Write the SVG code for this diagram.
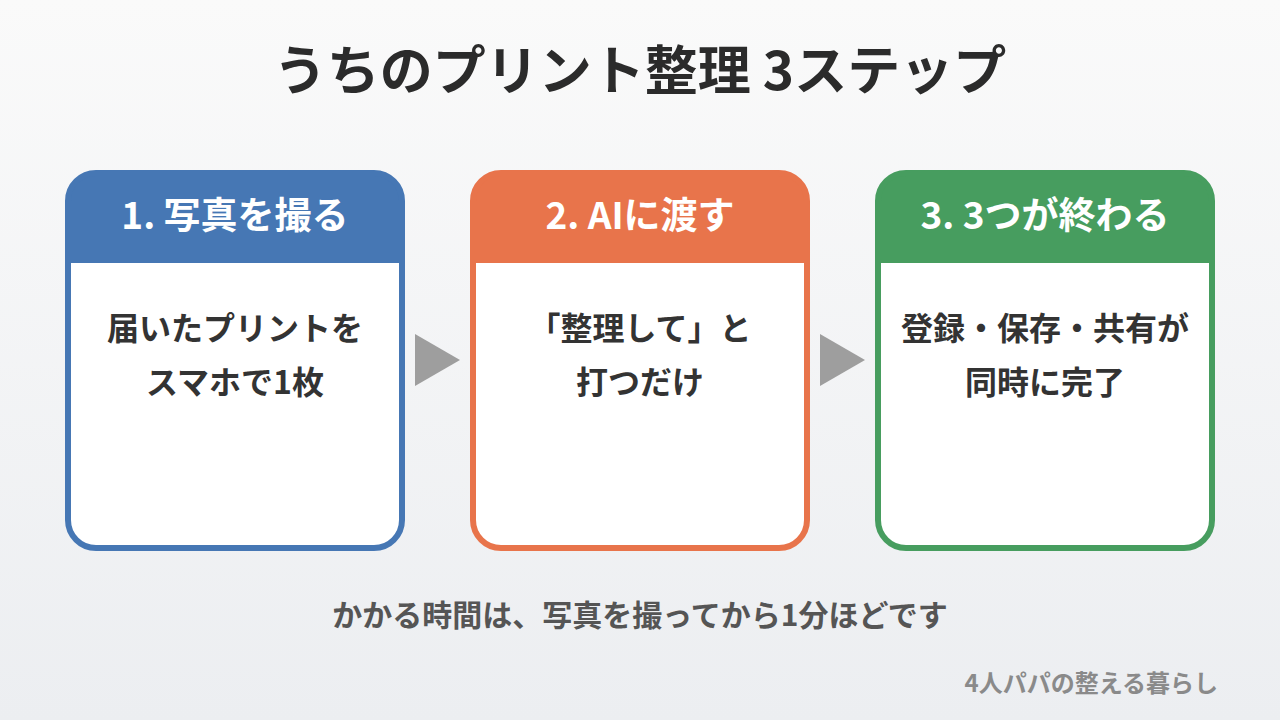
<svg xmlns="http://www.w3.org/2000/svg" width="1280" height="720" viewBox="0 0 1280 720">
<defs>
<linearGradient id="bg" x1="0" y1="0" x2="0" y2="1">
<stop offset="0" stop-color="#fafafa"/>
<stop offset="1" stop-color="#eceef1"/>
</linearGradient>
<clipPath id="c1"><rect x="68" y="173" width="334" height="375" rx="28"/></clipPath>
<clipPath id="c2"><rect x="473" y="173" width="334" height="375" rx="28"/></clipPath>
<clipPath id="c3"><rect x="878" y="173" width="334" height="375" rx="28"/></clipPath>
</defs>
<style>
text{font-family:"Noto Sans CJK JP","Noto Sans",sans-serif;text-anchor:middle}
.title{font-size:53px;font-weight:700;fill:#2b2b2b}
.head{font-size:37px;font-weight:700;fill:#ffffff}
.body{font-size:32px;font-weight:700;fill:#333333}
.note{font-size:30px;font-weight:700;fill:#555555}
.foot{font-size:24px;font-weight:700;fill:#8a8a8a;text-anchor:end}
.arrow{fill:#9e9e9e}
</style>
<rect width="1280" height="720" fill="url(#bg)"/>
<text class="title" x="640" y="90">うちのプリント整理 3ステップ</text>
<g id="step1">
<rect x="68" y="173" width="334" height="375" rx="28" fill="#ffffff"/>
<rect x="68" y="173" width="334" height="90" fill="#4677b4" clip-path="url(#c1)"/>
<rect x="68" y="173" width="334" height="375" rx="28" fill="none" stroke="#4677b4" stroke-width="6"/>
<text class="head" x="235" y="229">1. 写真を撮る</text>
<text class="body" x="235" y="340">届いたプリントを</text>
<text class="body" x="235" y="394">スマホで1枚</text>
</g>
<g id="step2">
<rect x="473" y="173" width="334" height="375" rx="28" fill="#ffffff"/>
<rect x="473" y="173" width="334" height="90" fill="#e8744b" clip-path="url(#c2)"/>
<rect x="473" y="173" width="334" height="375" rx="28" fill="none" stroke="#e8744b" stroke-width="6"/>
<text class="head" x="640" y="229">2. AIに渡す</text>
<text class="body" x="640" y="340">「整理して」と</text>
<text class="body" x="640" y="394">打つだけ</text>
</g>
<g id="step3">
<rect x="878" y="173" width="334" height="375" rx="28" fill="#ffffff"/>
<rect x="878" y="173" width="334" height="90" fill="#479d5f" clip-path="url(#c3)"/>
<rect x="878" y="173" width="334" height="375" rx="28" fill="none" stroke="#479d5f" stroke-width="6"/>
<text class="head" x="1045" y="229">3. 3つが終わる</text>
<text class="body" x="1045" y="340">登録・保存・共有が</text>
<text class="body" x="1045" y="394">同時に完了</text>
</g>
<g id="connectors">
<polygon class="arrow" points="415,334 460,360 415,386"/>
<polygon class="arrow" points="820,334 865,360 820,386"/>
</g>
<text class="note" x="640" y="626">かかる時間は、写真を撮ってから1分ほどです</text>
<text class="foot" x="1218" y="692">4人パパの整える暮らし</text>
</svg>
